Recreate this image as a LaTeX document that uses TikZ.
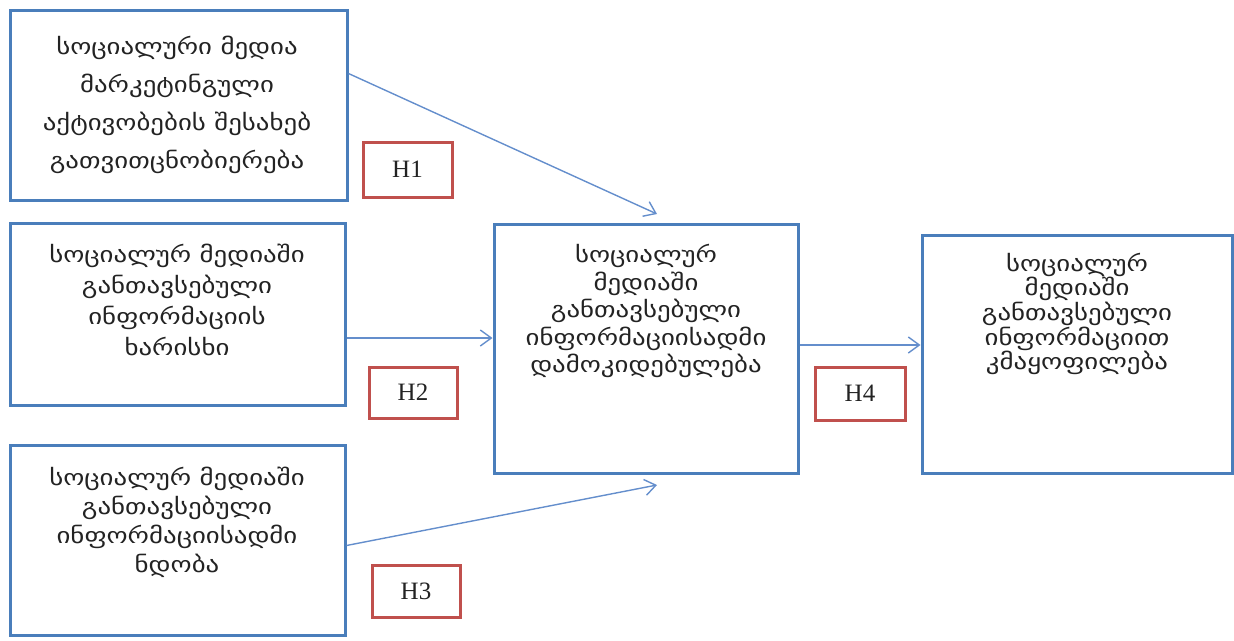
\documentclass[tikz,border=0pt]{standalone}
\usepackage{fontspec}
\newfontfamily\geo[FakeStretch=1.22]{DejaVu Sans}
\newfontfamily\lat{Liberation Serif}
\usetikzlibrary{arrows.meta,calc}
\definecolor{boxblue}{RGB}{74,126,187}
\definecolor{arrblue}{RGB}{100,142,204}
\definecolor{hred}{RGB}{192,80,77}
\definecolor{txt}{RGB}{35,35,35}
\tikzset{
  bluebox/.style={draw=boxblue,line width=3pt,rectangle,inner sep=0pt,fill=white},
  hbox/.style={draw=hred,line width=3pt,rectangle,inner sep=0pt,font=\lat\fontsize{25}{28}\selectfont,text=txt},
  geotext/.style={align=center,text=txt,inner sep=0pt},
  arr/.style={draw=arrblue,line width=1.4pt,-{Straight Barb[length=11pt,width=16pt,line width=1.4pt]}}
}
\begin{document}
\begin{tikzpicture}[x=1pt,y=-1pt]
\useasboundingbox (0,0) rectangle (1234,640);
% boxes
\node[bluebox,minimum width=337,minimum height=190] (b1) at (178.5,105) {};
\node[bluebox,minimum width=335,minimum height=182] (b2) at (177.5,314) {};
\node[bluebox,minimum width=335,minimum height=190] (b3) at (177.5,540) {};
\node[bluebox,minimum width=304,minimum height=249] (c) at (646,348.5) {};
\node[bluebox,minimum width=310,minimum height=238] (r) at (1077,354) {};
% texts
\node[geotext,font=\geo\fontsize{22}{38}\selectfont] (t1) at (177,105)
  {სოციალური მედია\\მარკეტინგული\\აქტივობების შესახებ\\გათვითცნობიერება};
\node[geotext,font=\geo\fontsize{22}{31}\selectfont] (t2) at (177,300)
  {სოციალურ მედიაში\\განთავსებული\\ინფორმაციის\\ხარისხი};
\node[geotext,font=\geo\fontsize{22}{29}\selectfont] (t3) at (177,522)
  {სოციალურ მედიაში\\განთავსებული\\ინფორმაციისადმი\\ნდობა};
\node[geotext,font=\geo\fontsize{22}{27.5}\selectfont] (tc) at (646,311)
  {სოციალურ\\მედიაში\\განთავსებული\\ინფორმაციისადმი\\დამოკიდებულება};
\node[geotext,font=\geo\fontsize{22}{23}\selectfont] (tr) at (1077,314)
  {სოციალურ\\მედიაში\\განთავსებული\\ინფორმაციით\\კმაყოფილება};
% hypothesis labels
\node[hbox,minimum width=89,minimum height=55] (h1) at (407.5,169.5) {H1};
\node[hbox,minimum width=88,minimum height=51] (h2) at (413,392.5) {H2};
\node[hbox,minimum width=88,minimum height=52] (h3) at (416,591) {H3};
\node[hbox,minimum width=90,minimum height=53] (h4) at (860,393.5) {H4};
% connectors
\coordinate (e1) at (657,214);
\coordinate (e3) at (657,485);
\coordinate (y2) at (0,338);
\coordinate (y4) at (0,345);
\draw[arr] ($(b1.north east)+(0,65)$) -- (e1);
\draw[arr] (b2.east |- y2) -- (c.west |- y2);
\draw[arr] ($(b3.north east)+(0,102)$) -- (e3);
\draw[arr] (c.east |- y4) -- (r.west |- y4);
\end{tikzpicture}
\end{document}
